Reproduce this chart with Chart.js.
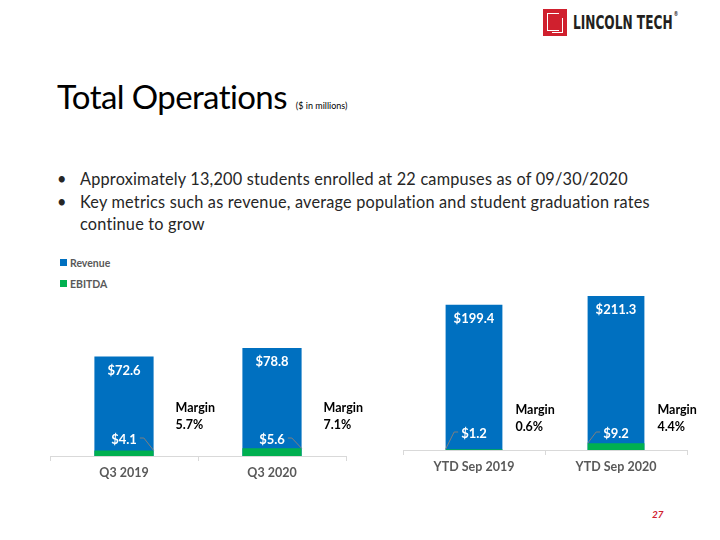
<!DOCTYPE html>
<html>
<head>
<meta charset="utf-8">
<script src="https://cdn.jsdelivr.net/npm/chart.js@4.4.0/dist/chart.umd.min.js"></script>
<style>
  body { margin: 0; background: #fff; }
  #slide { position: relative; width: 720px; height: 540px; overflow: hidden; font-family: Lato, "Open Sans", sans-serif; }
  .abs { position: absolute; }
  #logoBox { left: 543px; top: 9px; width: 24px; height: 27px; background: #d0202e; }
  #logoBox .l1 { position: absolute; left: 4px; top: 4px; width: 11px; height: 16px; border: 1.5px solid #fff; border-right: none; }
  #logoBox .l2 { position: absolute; left: 9px; top: 9px; width: 10px; height: 14px; border: 1.5px solid #fff; border-left: none; border-top: none; }
  #logoText { left: 573px; top: 11px; font-family: "DejaVu Sans", sans-serif; font-weight: bold; font-size: 19px; color: #231f20; transform: scaleX(0.64); transform-origin: left top; white-space: nowrap; }
  #logoText sup { font-size: 7px; vertical-align: top; position: relative; top: -1px; margin-left: 2px; }
  #title { left: 57px; top: 76px; font-size: 33px; color: #000; letter-spacing: -0.6px; }
  #title small { font-size: 9px; letter-spacing: 0; margin-left: 9px; font-weight: normal; }
  .bullet { left: 57px; font-size: 16.3px; color: #262626; }
  .bullet span { position: absolute; left: 23px; white-space: nowrap; letter-spacing: 0.2px; }
  #legend { left: 60px; top: 252px; font-size: 10.5px; font-weight: bold; color: #595959; }
  #legend div { height: 21px; display: flex; align-items: center; }
  #legend i { display: inline-block; width: 7px; height: 7px; margin-right: 3px; }
  #page { left: 652px; top: 508px; font-size: 10px; font-weight: bold; font-style: italic; color: #d0202e; }
  canvas { position: absolute; }
</style>
</head>
<body>
<div id="slide">
  <div id="logoBox" class="abs"><div class="l1"></div><div class="l2"></div></div>
  <div id="logoText" class="abs">LINCOLN TECH<sup>®</sup></div>
  <div id="title" class="abs">Total Operations<small>($ in millions)</small></div>
  <div class="bullet abs" style="top:169px">•<span>Approximately 13,200 students enrolled at 22 campuses as of 09/30/2020</span></div>
  <div class="bullet abs" style="top:192px">•<span>Key metrics such as revenue, average population and student graduation rates</span></div>
  <div class="bullet abs" style="top:214px"><span>continue to grow</span></div>
  <div id="legend" class="abs"></div>
  <canvas id="qtrChart" width="336" height="194" style="left:50px;top:290px"></canvas>
  <canvas id="ytdChart" width="314" height="184" style="left:403px;top:294px"></canvas>
  <div id="page" class="abs">27</div>
</div>
<script>
const quarterLabels = ["Q3 2019", "Q3 2020"];
const quarterRevenue = [72.6, 78.8];
const quarterEbitda = [4.1, 5.6];
const quarterMargin = ["5.7%", "7.1%"];

const ytdLabels = ["YTD Sep 2019", "YTD Sep 2020"];
const ytdRevenue = [199.4, 211.3];
const ytdEbitda = [1.2, 9.2];
const ytdMargin = ["0.6%", "4.4%"];

const seriesNames = ["Revenue", "EBITDA"];
const colors = { revenue: "#0070c0", ebitda: "#00b050", axis: "#d9d9d9", tick: "#595959", leader: "#7f7f7f" };

// legend (one for the slide)
document.getElementById("legend").innerHTML = seriesNames
  .map((name, i) => `<div><i style="background:${i ? colors.ebitda : colors.revenue}"></i>${name}</div>`)
  .join("");

const slideLabels = {
  id: "slideLabels",
  afterDatasetsDraw(chart, args, opts) {
    const ctx = chart.ctx;
    const rev = chart.getDatasetMeta(0).data;
    const ebit = chart.getDatasetMeta(1).data;
    const base = chart.scales.y.getPixelForValue(0);
    ctx.save();
    ctx.textAlign = "center";
    ctx.textBaseline = "middle";
    ctx.font = "bold 13px Lato";
    ctx.fillStyle = "#fff";
    rev.forEach((bar, i) => {
      ctx.fillText("$" + chart.data.datasets[0].data[i].toFixed(1), bar.x, bar.y + 14);
    });
    ebit.forEach((bar, i) => {
      const text = "$" + chart.data.datasets[1].data[i].toFixed(1);
      const ly = base - 16;
      ctx.fillStyle = "#fff";
      ctx.fillText(text, bar.x, ly);
      const tw = ctx.measureText(text).width;
      const dir = opts.leaderSide === "left" ? -1 : 1;
      const sx = bar.x + dir * (tw / 2 + 3);
      ctx.strokeStyle = colors.leader;
      ctx.lineWidth = 1;
      ctx.beginPath();
      ctx.moveTo(sx, ly - 2);
      ctx.lineTo(sx + dir * 4, ly - 2);
      ctx.lineTo(bar.x + dir * bar.width / 2, bar.y);
      ctx.stroke();
    });
    ctx.textAlign = "left";
    ctx.font = "bold 12.5px Lato";
    ctx.fillStyle = "#000";
    rev.forEach((bar, i) => {
      const x = bar.x + bar.width / 2 + opts.marginOffset;
      ctx.fillText("Margin", x, base - opts.marginY);
      ctx.fillText(opts.margins[i], x, base - opts.marginY + 17);
    });
    ctx.restore();
  }
};

function makeChart(id, labels, revenue, ebitda, yMax, padRight, labelOpts) {
  return new Chart(document.getElementById(id), {
    type: "bar",
    data: {
      labels: labels,
      datasets: [
        { label: seriesNames[0], data: revenue, backgroundColor: colors.revenue, order: 1 },
        { label: seriesNames[1], data: ebitda, backgroundColor: colors.ebitda, order: 0 },
      ],
    },
    options: {
      responsive: false,
      animation: false,
      grouped: false,
      barPercentage: 0.4,
      categoryPercentage: 1,
      layout: { padding: { right: padRight } },
      plugins: {
        legend: { display: false },
        tooltip: { enabled: false },
        slideLabels: labelOpts,
      },
      scales: {
        y: { display: false, min: 0, max: yMax },
        x: {
          grid: { offset: true, drawOnChartArea: false, color: colors.axis, tickLength: 5 },
          border: { color: colors.axis },
          ticks: { color: colors.tick, font: { family: "Lato", size: 12.5, weight: "bold" }, padding: 4 },
        },
      },
    },
    plugins: [slideLabels],
  });
}

makeChart("qtrChart", quarterLabels, quarterRevenue, quarterEbitda, 121, 40,
  { margins: quarterMargin, leaderSide: "right", marginOffset: 22, marginY: 48 });
makeChart("ytdChart", ytdLabels, ytdRevenue, ytdEbitda, 214, 30,
  { margins: ytdMargin, leaderSide: "left", marginOffset: 13, marginY: 40 });
</script>
</body>
</html>
